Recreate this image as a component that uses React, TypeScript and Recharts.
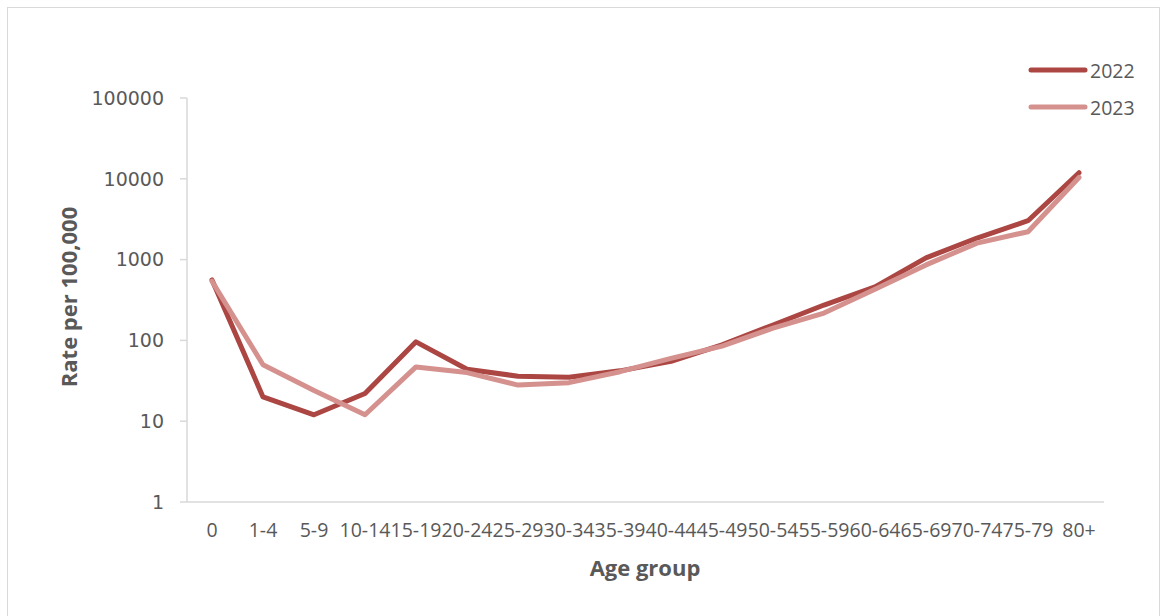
import { CartesianGrid, Legend, Line, LineChart, XAxis, YAxis } from "recharts";

const ageGroups = ["0", "1-4", "5-9", "10-14", "15-19", "20-24", "25-29", "30-34", "35-39", "40-44", "45-49", "50-54", "55-59", "60-64", "65-69", "70-74", "75-79", "80+"];
const rate2022 = [560, 20, 12, 22, 96, 44, 36, 35, 42, 55, 88, 155, 274, 460, 1050, 1850, 3030, 11900];
const rate2023 = [540, 50, 24, 12, 47, 40, 28, 30, 41, 60, 85, 142, 218, 430, 860, 1600, 2215, 10400];
const yTicks = [1, 10, 100, 1000, 10000, 100000];

const seriesList = [
  { key: "y2022", name: "2022", color: "#ab4643" },
  { key: "y2023", name: "2023", color: "#d4918e" }
];

const data = ageGroups.map((group, i) => ({
  group,
  y2022: rate2022[i],
  y2023: rate2023[i]
}));

const textColor = "#595959";
const axisColor = "#d9d9d9";

function LegendBox() {
  return (
    <div style={{ display: "flex", flexDirection: "column", gap: 11 }}>
      {seriesList.map((s) => (
        <div key={s.key} style={{ display: "flex", alignItems: "center", height: 26 }}>
          <svg width={60} height={10}>
            <line x1={3} y1={5} x2={57} y2={5} stroke={s.color} strokeWidth={5} strokeLinecap="round" />
          </svg>
          <span style={{ fontFamily: "Open Sans", fontSize: 19.5, color: textColor, marginLeft: 2 }}>{s.name}</span>
        </div>
      ))}
    </div>
  );
}

export default function App() {
  return (
    <div
      style={{
        position: "absolute",
        left: 7,
        top: 7,
        width: 1153,
        height: 616,
        border: `1px solid ${axisColor}`,
        boxSizing: "border-box",
        background: "#fff"
      }}
    >
      <div
        style={{
          position: "absolute",
          left: 60,
          top: 289,
          transform: "translate(-50%, -50%) rotate(-90deg)",
          fontFamily: "Open Sans",
          fontWeight: 700,
          fontSize: 22,
          color: textColor,
          whiteSpace: "nowrap"
        }}
      >
        Rate per 100,000
      </div>
      <div
        style={{
          position: "absolute",
          left: 637,
          top: 559,
          transform: "translate(-50%, -50%)",
          fontFamily: "Open Sans",
          fontWeight: 700,
          fontSize: 22,
          color: textColor,
          whiteSpace: "nowrap"
        }}
      >
        Age group
      </div>
      <LineChart
        width={1150}
        height={612}
        data={data}
        margin={{ top: 90, right: 54, left: 79, bottom: 88 }}
      >
        <CartesianGrid horizontal={false} vertical={false} />
        <XAxis
          dataKey="group"
          interval={0}
          padding={{ left: 25, right: 25 }}
          axisLine={{ stroke: axisColor, strokeWidth: 1.5 }}
          tickLine={false}
          tickSize={0}
          tickMargin={21}
          height={30}
          tick={{ fill: textColor, fontSize: 19.5, fontFamily: "Open Sans" }}
        />
        <YAxis
          scale="log"
          domain={[1, 100000]}
          ticks={yTicks}
          allowDataOverflow
          width={100}
          axisLine={{ stroke: axisColor, strokeWidth: 1.5 }}
          tickLine={{ stroke: axisColor, strokeWidth: 1.5 }}
          tickSize={7}
          tickMargin={16}
          tick={{ fill: textColor, fontSize: 19, fontFamily: "DejaVu Sans" }}
        />
        <Legend
          layout="horizontal"
          verticalAlign="middle"
          align="center"
          content={<LegendBox />}
          wrapperStyle={{ left: 1020, top: 49, width: 130 }}
        />
        {seriesList.map((s) => (
          <Line
            key={s.key}
            type="linear"
            dataKey={s.key}
            name={s.name}
            stroke={s.color}
            strokeWidth={5}
            strokeLinecap="round"
            strokeLinejoin="round"
            dot={false}
            activeDot={false}
            isAnimationActive={false}
          />
        ))}
      </LineChart>
    </div>
  );
}
